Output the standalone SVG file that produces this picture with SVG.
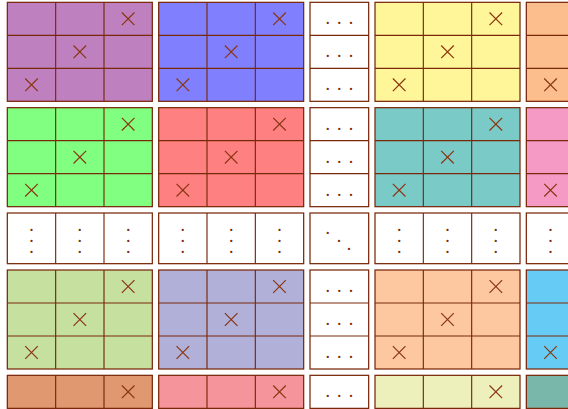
<svg xmlns="http://www.w3.org/2000/svg" width="568" height="409" viewBox="0 0 568 409">
<style>
  .ln{fill:none;stroke:#7a280a;stroke-width:1.15}
  .bx{stroke:#7a280a;stroke-width:1.25}
  .x{fill:none;stroke:#8a3512;stroke-width:1.2}
  .d{font-family:"Liberation Serif",serif;font-size:18px;fill:#7a280a;text-anchor:middle}
  .c1{fill:#bf80bf}.c2{fill:#8080ff}.c3{fill:#fff599}.c4{fill:#fbbe8c}
  .c5{fill:#80ff80}.c6{fill:#ff8080}.c7{fill:#7acbc7}.c8{fill:#f59ac5}
  .c9{fill:#c5e09f}.c10{fill:#b0b0d8}.c11{fill:#fdc8a0}.c12{fill:#66ccf5}
  .c13{fill:#df9870}.c14{fill:#f5959b}.c15{fill:#edf0bb}.c16{fill:#78b7a9}
  .w{fill:#ffffff}
</style>
<defs>
  <path id="xm" class="x" d="M-6.3,-6.3L6.3,6.3M-6.3,6.3L6.3,-6.3"/>
  <g id="grid3">
    <path class="ln" d="M48.33,0V99M96.67,0V99M0,33H145M0,66H145"/>
  </g>
  <g id="xs">
    <use href="#xm" x="120.83" y="16.5"/>
    <use href="#xm" x="72.5" y="49.5"/>
    <use href="#xm" x="24.17" y="82.5"/>
  </g>
  <g id="dcol">
    <rect class="w bx" x="0" y="0" width="58.67" height="99"/>
    <path class="ln" d="M0,33H58.67M0,66H58.67"/>
  </g>
  <g id="drow">
    <rect class="w bx" x="0" y="0" width="145" height="50.67"/>
    <path class="ln" d="M48.33,0V50.67M96.67,0V50.67"/>
  </g>
</defs>
<rect x="0" y="0" width="568" height="409" fill="#ffffff"/>

<g id="b00" transform="translate(7.33,2.33)"><rect class="c1 bx" width="145" height="99"/><use href="#grid3"/><use href="#xs"/></g>
<g id="b01" transform="translate(158.67,2.33)"><rect class="c2 bx" width="145" height="99"/><use href="#grid3"/><use href="#xs"/></g>
<g id="b02" transform="translate(375,2.33)"><rect class="c3 bx" width="145" height="99"/><use href="#grid3"/><use href="#xs"/></g>
<g id="b03" transform="translate(526.33,2.33)"><rect class="c4 bx" width="145" height="99"/><use href="#grid3"/><use href="#xs"/></g>

<g id="b10" transform="translate(7.33,107.67)"><rect class="c5 bx" width="145" height="99"/><use href="#grid3"/><use href="#xs"/></g>
<g id="b11" transform="translate(158.67,107.67)"><rect class="c6 bx" width="145" height="99"/><use href="#grid3"/><use href="#xs"/></g>
<g id="b12" transform="translate(375,107.67)"><rect class="c7 bx" width="145" height="99"/><use href="#grid3"/><use href="#xs"/></g>
<g id="b13" transform="translate(526.33,107.67)"><rect class="c8 bx" width="145" height="99"/><use href="#grid3"/><use href="#xs"/></g>

<g id="b30" transform="translate(7.33,270)"><rect class="c9 bx" width="145" height="99"/><use href="#grid3"/><use href="#xs"/></g>
<g id="b31" transform="translate(158.67,270)"><rect class="c10 bx" width="145" height="99"/><use href="#grid3"/><use href="#xs"/></g>
<g id="b32" transform="translate(375,270)"><rect class="c11 bx" width="145" height="99"/><use href="#grid3"/><use href="#xs"/></g>
<g id="b33" transform="translate(526.33,270)"><rect class="c12 bx" width="145" height="99"/><use href="#grid3"/><use href="#xs"/></g>

<g id="b40" transform="translate(7.33,375.33)"><rect class="c13 bx" width="145" height="99"/><use href="#grid3"/><use href="#xs"/></g>
<g id="b41" transform="translate(158.67,375.33)"><rect class="c14 bx" width="145" height="99"/><use href="#grid3"/><use href="#xs"/></g>
<g id="b42" transform="translate(375,375.33)"><rect class="c15 bx" width="145" height="99"/><use href="#grid3"/><use href="#xs"/></g>
<g id="b43" transform="translate(526.33,375.33)"><rect class="c16 bx" width="145" height="99"/><use href="#grid3"/><use href="#xs"/></g>

<g id="dc0" transform="translate(310,2.33)"><use href="#dcol"/>
  <text class="d" x="17.67 29.33 41" y="22">...</text>
  <text class="d" x="17.67 29.33 41" y="55">...</text>
  <text class="d" x="17.67 29.33 41" y="88">...</text>
</g>
<g id="dc1" transform="translate(310,107.67)"><use href="#dcol"/>
  <text class="d" x="17.67 29.33 41" y="22">...</text>
  <text class="d" x="17.67 29.33 41" y="55">...</text>
  <text class="d" x="17.67 29.33 41" y="88">...</text>
</g>
<g id="dc3" transform="translate(310,270)"><use href="#dcol"/>
  <text class="d" x="17.67 29.33 41" y="22">...</text>
  <text class="d" x="17.67 29.33 41" y="55">...</text>
  <text class="d" x="17.67 29.33 41" y="88">...</text>
</g>
<g id="dc4" transform="translate(310,375.33)"><use href="#dcol"/>
  <text class="d" x="17.67 29.33 41" y="22">...</text>
</g>

<g id="dr0" transform="translate(7.33,213)"><use href="#drow"/>
  <text class="d" x="24.17 24.17 24.17" y="18.3 29.3 40.3">...</text>
  <text class="d" x="72.5 72.5 72.5" y="18.3 29.3 40.3">...</text>
  <text class="d" x="120.83 120.83 120.83" y="18.3 29.3 40.3">...</text>
</g>
<g id="dr1" transform="translate(158.67,213)"><use href="#drow"/>
  <text class="d" x="24.17 24.17 24.17" y="18.3 29.3 40.3">...</text>
  <text class="d" x="72.5 72.5 72.5" y="18.3 29.3 40.3">...</text>
  <text class="d" x="120.83 120.83 120.83" y="18.3 29.3 40.3">...</text>
</g>
<g id="dmid" transform="translate(310,213)">
  <rect class="w bx" x="0" y="0" width="58.67" height="50.67"/>
  <text class="d" x="17.67 29 39" y="21.3 29.3 37.3">...</text>
</g>
<g id="dr3" transform="translate(375,213)"><use href="#drow"/>
  <text class="d" x="24.17 24.17 24.17" y="18.3 29.3 40.3">...</text>
  <text class="d" x="72.5 72.5 72.5" y="18.3 29.3 40.3">...</text>
  <text class="d" x="120.83 120.83 120.83" y="18.3 29.3 40.3">...</text>
</g>
<g id="dr4" transform="translate(526.33,213)"><use href="#drow"/>
  <text class="d" x="24.17 24.17 24.17" y="18.3 29.3 40.3">...</text>
</g>
<g id="connectors"/>
</svg>
